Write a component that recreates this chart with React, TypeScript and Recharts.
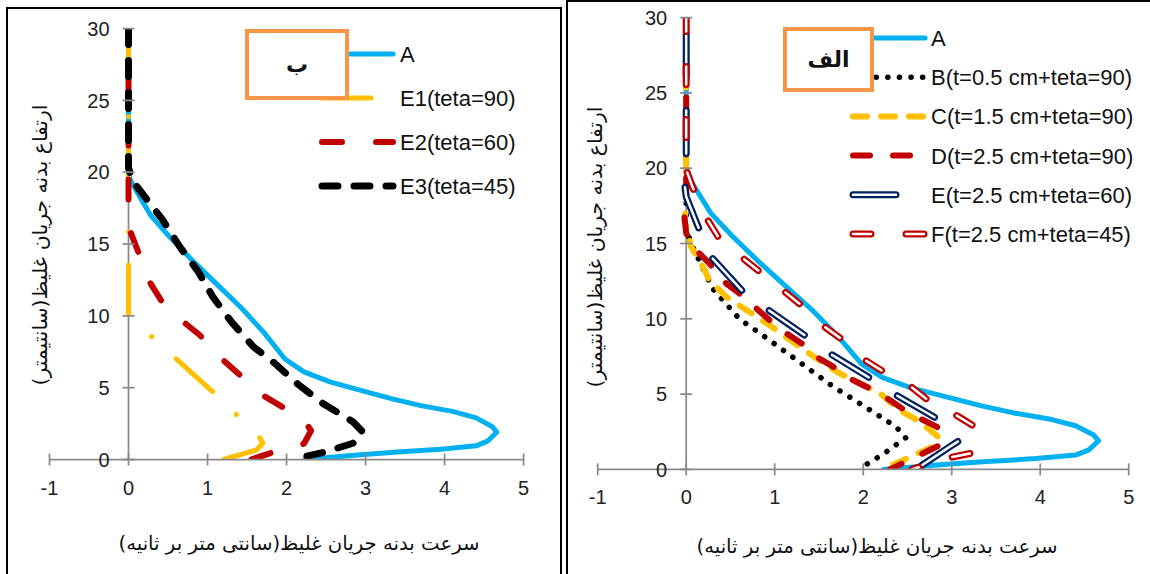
import React from "react";
import { ComposedChart, Line, XAxis, YAxis, ReferenceLine } from "recharts";

const xTicks = [-1, 0, 1, 2, 3, 4, 5];
const yTicks = [0, 5, 10, 15, 20, 25, 30];

// A (reference profile, same in both panels)
const aSpeed = [0, 0, 0, 0.02, 0.1, 0.28, 0.52, 0.8, 1.08, 1.42, 1.72, 1.98, 2.22, 2.55, 2.95, 3.35, 3.7, 4.1, 4.4, 4.6, 4.66, 4.55, 4.4, 3.95, 3.4, 2.9, 2.23];
const aHeight = [30, 25, 20, 19.5, 18.7, 17.0, 15.5, 13.9, 12.4, 10.6, 8.8, 7.0, 6.1, 5.4, 4.8, 4.2, 3.75, 3.35, 2.9, 2.3, 1.9, 1.3, 0.95, 0.72, 0.52, 0.32, 0];

// panel b
const e1Speed = [0, 0, 0, 1.09, 1.65, 1.7, 1.62, 1.2];
const e1Height = [30, 20, 10, 4.6, 1.6, 1.15, 0.66, 0];
const e2Speed = [0, 0, 0, 0, 0.12, 0.24, 0.41, 0.69, 0.9, 1.17, 1.41, 1.66, 1.94, 2.2, 2.31, 2.22, 1.85, 1.55];
const e2Height = [30, 20, 18, 16.2, 14.5, 12.6, 11.1, 9.6, 8.67, 7.05, 5.88, 4.6, 3.68, 2.9, 2.0, 1.1, 0.54, 0];
const e3Speed = [0, 0, 0.05, 0.43, 0.65, 0.88, 1.07, 1.3, 1.58, 1.85, 2.13, 2.46, 2.84, 2.96, 2.84, 2.5, 2.08];
const e3Height = [30, 20.3, 19.4, 16.7, 14.8, 13.1, 11.3, 9.6, 7.85, 6.7, 5.3, 3.9, 2.63, 1.95, 1.13, 0.54, 0];

// panel alef
const bSpeed = [0, 0, 0.055, 0.3, 0.6, 0.96, 1.3, 1.66, 2.02, 2.37, 2.48, 2.24, 2.0, 1.99];
const bHeight = [30, 16, 15, 12, 10, 8.5, 7.04, 5.5, 4.16, 2.84, 2.1, 1.07, 0.2, 0];
const cSpeed = [0, 0, -0.02, 0.055, 0.19, 0.26, 0.45, 0.68, 0.94, 1.2, 1.47, 1.73, 1.96, 2.19, 2.41, 2.64, 2.84, 2.82, 2.22];
const cHeight = [30, 17.5, 16.56, 14.8, 13.46, 12.57, 11.47, 10.58, 9.59, 8.48, 7.38, 6.38, 5.72, 5.05, 3.94, 3.17, 2.2, 1.6, 0];
const dSpeed = [0, 0, -0.02, 0, 0.11, 0.26, 0.45, 0.6, 0.79, 0.94, 1.13, 1.36, 1.47, 1.66, 1.88, 2.11, 2.3, 2.52, 2.83, 2.9, 2.86, 2.39, 2.3];
const dHeight = [30, 17.5, 16.78, 15.68, 14.57, 13.69, 12.36, 11.69, 10.7, 9.92, 9.04, 8.15, 7.48, 6.82, 5.94, 5.27, 4.61, 3.72, 2.84, 2.4, 1.59, 0.25, 0];
const eSpeed = [0, 0, -0.02, 0, 0.15, 0.28, 0.66, 0.9, 1.39, 1.62, 2.11, 2.37, 2.86, 3.07, 2.98, 2.64, 2.61];
const eHeight = [30, 19.5, 19.0, 18.1, 15.9, 14.12, 11.69, 10.7, 8.7, 7.71, 5.94, 4.94, 3.28, 1.85, 1.51, 0.18, 0];
const fSpeed = [0, 0, 0, 0.07, 0.22, 0.36, 0.62, 0.83, 1.09, 1.32, 1.56, 1.77, 2.02, 2.26, 2.54, 2.73, 3.05, 3.3, 3.24, 2.95, 2.55];
const fHeight = [30, 20.5, 19.9, 18.77, 16.78, 15.45, 14.12, 13.13, 11.91, 10.8, 9.48, 8.59, 7.26, 6.38, 5.49, 4.61, 3.6, 2.7, 1.1, 0.75, 0];

const zip = (xs: number[], ys: number[]) => xs.map((x, i) => ({ x, y: ys[i] }));

const AXIS = "#8a8a8a";
const BLUE = "#00B0F0";
const YELLOW = "#FFC000";
const RED = "#C00000";
const NAVY = "#002060";
const NUM_FONT = "'Liberation Sans', Arial, sans-serif";
const FA_FONT = "'DejaVu Sans', sans-serif";
const AXIS_BOX = 20;

type Series = {
  name: string;
  data: { x: number; y: number }[];
  color: string;
  width: number;
  dash?: string;
  offset?: number;
  inner?: number;
};

const seriesB: Series[] = [
  { name: "A", data: zip(aSpeed, aHeight), color: BLUE, width: 5 },
  { name: "E1(teta=90)", data: zip(e1Speed, e1Height), color: YELLOW, width: 5, dash: "49 33 0.1 33", offset: 109 },
  { name: "E2(teta=60)", data: zip(e2Speed, e2Height), color: RED, width: 6, dash: "20 34", offset: 11 },
  { name: "E3(teta=45)", data: zip(e3Speed, e3Height), color: "#000", width: 7, dash: "16 16" },
];

const seriesAlef: Series[] = [
  { name: "A", data: zip(aSpeed, aHeight), color: BLUE, width: 5 },
  { name: "B(t=0.5 cm+teta=90)", data: zip(bSpeed, bHeight), color: "#000", width: 5.5, dash: "0.1 11.5" },
  { name: "C(t=1.5 cm+teta=90)", data: zip(cSpeed, cHeight), color: YELLOW, width: 6, dash: "14 14" },
  { name: "D(t=2.5 cm+teta=90)", data: zip(dSpeed, dHeight), color: RED, width: 6, dash: "17 23" },
  { name: "E(t=2.5 cm+teta=60)", data: zip(eSpeed, eHeight), color: NAVY, width: 7, dash: "43 34", offset: 61, inner: 2.5 },
  { name: "F(t=2.5 cm+teta=45)", data: zip(fSpeed, fHeight), color: RED, width: 7, dash: "18 35", offset: 4, inner: 2.5 },
];

type PanelProps = {
  left: number;
  width: number;
  plotLeft: number;
  plotRight: number;
  plotTop: number;
  plotBottom: number;
  series: Series[];
};

function Panel({ left, width, plotLeft, plotRight, plotTop, plotBottom, series }: PanelProps) {
  const unit = (plotRight - plotLeft) / 6;
  const margin = {
    top: plotTop,
    left: plotLeft - AXIS_BOX,
    right: width - plotRight,
    bottom: 574 - plotBottom - AXIS_BOX,
  };
  const yTick = (p: any) => {
    const ax = plotLeft + unit;
    return (
      <g>
        <line x1={ax - 6} x2={ax + 6} y1={p.y} y2={p.y} stroke={AXIS} strokeWidth={1.75} />
        <text x={ax - 19} y={p.y} dy="0.36em" textAnchor="end" fontSize={20} fill="#222" fontFamily={NUM_FONT}>
          {p.payload.value}
        </text>
      </g>
    );
  };
  const xTick = (p: any) => (
    <g>
      <line x1={p.x} x2={p.x} y1={plotBottom - 6} y2={plotBottom + 6} stroke={AXIS} strokeWidth={1.75} />
      <text x={p.x} y={plotBottom + 35} textAnchor="middle" fontSize={20} fill="#222" fontFamily={NUM_FONT}>
        {p.payload.value}
      </text>
    </g>
  );
  const lines: React.ReactNode[] = [];
  series.forEach((s, i) => {
    const common = {
      data: s.data,
      dataKey: "y",
      type: "linear" as const,
      strokeDasharray: s.dash,
      strokeDashoffset: s.offset,
      strokeLinecap: "round" as const,
      strokeLinejoin: "round" as const,
      dot: false,
      activeDot: false,
      isAnimationActive: false,
    };
    lines.push(<Line key={`o${i}`} {...common} stroke={s.color} strokeWidth={s.width} />);
    if (s.inner) {
      lines.push(<Line key={`i${i}`} {...common} stroke="#fff" strokeWidth={s.inner} />);
    }
  });
  return (
    <div style={{ position: "absolute", left, top: 0 }}>
      <ComposedChart width={width} height={574} margin={margin}>
        <XAxis
          type="number"
          dataKey="x"
          domain={[-1, 5]}
          ticks={xTicks}
          height={AXIS_BOX}
          tickSize={0}
          tickMargin={0}
          tickLine={false}
          axisLine={{ stroke: AXIS, strokeWidth: 1.75 }}
          tick={xTick}
          allowDataOverflow
        />
        <YAxis
          type="number"
          dataKey="y"
          domain={[0, 30]}
          ticks={yTicks}
          width={AXIS_BOX}
          tickSize={0}
          tickMargin={0}
          tickLine={false}
          axisLine={false}
          tick={yTick}
          allowDataOverflow
        />
        <ReferenceLine x={0} stroke={AXIS} strokeWidth={1.75} />
        {lines}
      </ComposedChart>
    </div>
  );
}

function Key({ series, left, top, gap, sampleX1, sampleX2, textX }: { series: Series[]; left: number; top: number; gap: number; sampleX1: number; sampleX2: number; textX: number }) {
  return (
    <svg style={{ position: "absolute", left, top: top - 20, overflow: "visible" }} width={560} height={gap * series.length + 40}>
      {series.map((s, i) => {
        const y = 20 + i * gap;
        return (
          <g key={s.name}>
            <line x1={sampleX1} x2={sampleX2} y1={y} y2={y} stroke={s.color} strokeWidth={s.width} strokeDasharray={s.dash} strokeLinecap="round" />
            {s.inner ? (
              <line x1={sampleX1} x2={sampleX2} y1={y} y2={y} stroke="#fff" strokeWidth={s.inner} strokeDasharray={s.dash} strokeLinecap="round" />
            ) : null}
            <text x={textX} y={y} dy="0.36em" fontSize={22} fill="#111" fontFamily={NUM_FONT}>
              {s.name}
            </text>
          </g>
        );
      })}
    </svg>
  );
}

const tagStyle: React.CSSProperties = {
  position: "absolute",
  boxSizing: "border-box",
  border: "4px solid #F79646",
  background: "#fff",
  display: "flex",
  alignItems: "center",
  justifyContent: "center",
  fontFamily: FA_FONT,
  fontWeight: "bold",
  fontSize: 22,
  color: "#111",
};

const xTitleStyle: React.CSSProperties = {
  position: "absolute",
  transform: "translate(-50%, -50%)",
  whiteSpace: "nowrap",
  direction: "rtl",
  fontFamily: FA_FONT,
  fontSize: 19.7,
  color: "#111",
};

const yTitleStyle: React.CSSProperties = {
  ...xTitleStyle,
  fontSize: 20.3,
  transform: "translate(-50%, -50%) rotate(-90deg)",
};

export default function App() {
  return (
    <div style={{ position: "absolute", left: 0, top: 0, width: 1150, height: 574, overflow: "hidden", background: "#fff" }}>
      <div style={{ position: "absolute", left: 6, top: 7, width: 556, height: 620, border: "2px solid #000", boxSizing: "border-box" }} />
      <div style={{ position: "absolute", left: 566, top: 0, width: 620, height: 620, border: "2px solid #000", boxSizing: "border-box" }} />

      <Panel left={0} width={575} plotLeft={49.5} plotRight={523.6} plotTop={28.6} plotBottom={459.5} series={seriesB} />
      <Panel left={575} width={575} plotLeft={22.7} plotRight={553.7} plotTop={17.6} plotBottom={469.4} series={seriesAlef} />

      <Key series={seriesB} left={0} top={54} gap={44} sampleX1={322} sampleX2={393} textX={400} />
      <Key series={seriesAlef} left={575} top={38} gap={39.2} sampleX1={278} sampleX2={350} textX={356} />

      <div style={{ ...tagStyle, left: 245, top: 29, width: 104, height: 71 }}>ب</div>
      <div style={{ ...tagStyle, left: 783, top: 27, width: 91, height: 65 }}>الف</div>

      <div style={{ ...xTitleStyle, left: 299, top: 543 }}>سرعت بدنه جریان غلیظ(سانتی متر بر ثانیه)</div>
      <div style={{ ...xTitleStyle, left: 877, top: 546 }}>سرعت بدنه جریان غلیظ(سانتی متر بر ثانیه)</div>
      <div style={{ ...yTitleStyle, left: 40, top: 245 }}>ارتفاع بدنه جریان غلیظ(سانتیمتر)</div>
      <div style={{ ...yTitleStyle, left: 595, top: 247 }}>ارتفاع بدنه جریان غلیظ(سانتیمتر)</div>
    </div>
  );
}
